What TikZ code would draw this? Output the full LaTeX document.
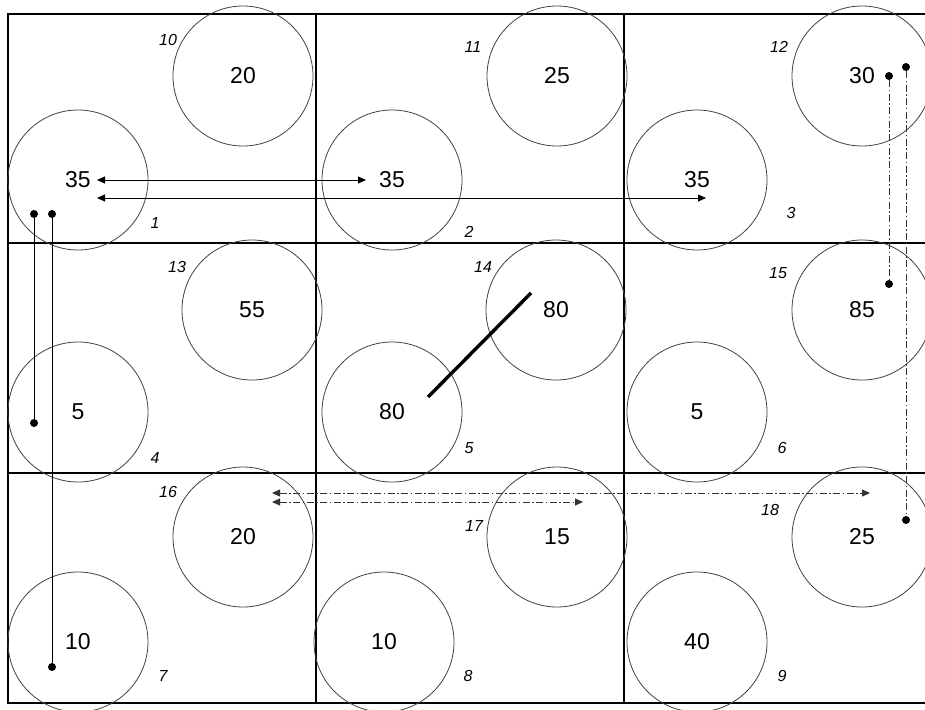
\documentclass[tikz,border=0pt]{standalone}
\usepackage{fontspec}
\setmainfont{Liberation Sans}
\usetikzlibrary{arrows.meta}

\begin{document}
\begin{tikzpicture}[%
    x=1pt, y=-1pt,
    >={Triangle[length=8pt, width=7pt]},
    grid/.style={line width=1.3pt},
    disk/.style={circle, draw=black!75, line width=0.8pt, minimum size=140pt, inner sep=0pt, font=\fontsize{23}{23}\selectfont},
    cellno/.style={font=\itshape\fontsize{16}{16}\selectfont},
    dot/.style={circle, fill, inner sep=0pt, minimum size=8pt},
    link/.style={line width=1pt},
    dashdot/.style={line width=1pt, black!80, dash pattern=on 7pt off 2.5pt on 1.5pt off 2.5pt},
  ]
  \useasboundingbox (0,0) rectangle (925,709);
  \clip (0,0) rectangle (925,709);

  % --- cells ---
  \draw[grid] (8,14) rectangle (932,703);
  \draw[grid] (316,14) -- (316,703);
  \draw[grid] (624,14) -- (624,703);
  \draw[grid] (8,243) -- (932,243);
  \draw[grid] (8,473) -- (932,473);

  % --- circles, row 1 ---
  \node[disk] (a1) at (78,180) {35};
  \node[disk] (a2) at (392,180) {35};
  \node[disk] (a3) at (697,180) {35};
  \node[disk] (b10) at (243,76) {20};
  \node[disk] (b11) at (557,76) {25};
  \node[disk] (b12) at (862,76) {30};

  % --- circles, row 2 ---
  \node[disk] (a4) at (78,412) {5};
  \node[disk] (a5) at (392,412) {80};
  \node[disk] (a6) at (697,412) {5};
  \node[disk] (b13) at (252,310) {55};
  \node[disk] (b14) at (556,310) {80};
  \node[disk] (b15) at (862,310) {85};

  % --- circles, row 3 ---
  \node[disk] (a7) at (78,642) {10};
  \node[disk] (a8) at (384,642) {10};
  \node[disk] (a9) at (697,642) {40};
  \node[disk] (b16) at (243,537) {20};
  \node[disk] (b17) at (557,537) {15};
  \node[disk] (b18) at (862,537) {25};

  % --- cell numbers ---
  \node[cellno] at (155,223) {1};
  \node[cellno] at (469,232) {2};
  \node[cellno] at (791,213) {3};
  \node[cellno] at (155,458) {4};
  \node[cellno] at (469,448) {5};
  \node[cellno] at (782,448) {6};
  \node[cellno] at (163,676) {7};
  \node[cellno] at (468,676) {8};
  \node[cellno] at (782,676) {9};
  \node[cellno] at (168,40) {10};
  \node[cellno] at (473,47) {11};
  \node[cellno] at (779,47) {12};
  \node[cellno] at (177,267) {13};
  \node[cellno] at (483,267) {14};
  \node[cellno] at (778,273) {15};
  \node[cellno] at (168,492) {16};
  \node[cellno] at (474,526) {17};
  \node[cellno] at (770,510) {18};

  % --- solid links ---
  \node[dot] (p1) at (34,214) {};
  \node[dot] (p2) at (34,423) {};
  \node[dot] (q1) at (52,214) {};
  \node[dot] (q2) at (52,667) {};
  \draw[link] (p1) -- (p2);
  \draw[link] (q1) -- (q2);

  % --- dash-dot links ---
  \node[dot] (r1) at (889,76) {};
  \node[dot] (r2) at (889,284) {};
  \node[dot] (s1) at (906,67) {};
  \node[dot] (s2) at (906,520) {};
  \draw[dashdot] (r1) -- (r2);
  \draw[dashdot] (s1) -- (s2);

  % --- arrows ---
  \coordinate (u1) at (97,180);
  \coordinate (u2) at (366,180);
  \coordinate (v1) at (97,198);
  \coordinate (v2) at (706,198);
  \draw[link, <->] (u1) -- (u2);
  \draw[link, <->] (v1) -- (v2);

  \coordinate (w1) at (272,493);
  \coordinate (w2) at (870,493);
  \coordinate (z1) at (272,502);
  \coordinate (z2) at (583,502);
  \draw[dashdot, <->] (w1) -- (w2);
  \draw[dashdot, <->] (z1) -- (z2);

  % --- thick bar ---
  \coordinate (t1) at (428,397);
  \coordinate (t2) at (531,293);
  \draw[line width=3.4pt] (t1) -- (t2);
\end{tikzpicture}
\end{document}
